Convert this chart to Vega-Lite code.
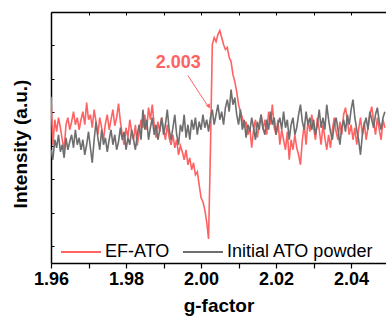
{
"$schema":"https://vega.github.io/schema/vega-lite/v6.json",
"width":335,"height":251,
"autosize":{"type":"none"},
"padding":{"left":51,"top":12,"right":0,"bottom":57},
"background":"white",
"config":{"view":{"stroke":null},"font":"Liberation Sans"},
"datasets":{
"spectra":[
{"g":1.96,"EF-ATO":166,"Initial ATO powder":113},
{"g":1.9605,"EF-ATO":118,"Initial ATO powder":103},
{"g":1.961,"EF-ATO":143,"Initial ATO powder":123},
{"g":1.9615,"EF-ATO":131,"Initial ATO powder":115},
{"g":1.962,"EF-ATO":145,"Initial ATO powder":128},
{"g":1.9625,"EF-ATO":135,"Initial ATO powder":111},
{"g":1.963,"EF-ATO":123,"Initial ATO powder":118},
{"g":1.9635,"EF-ATO":113,"Initial ATO powder":105},
{"g":1.964,"EF-ATO":138,"Initial ATO powder":125},
{"g":1.9645,"EF-ATO":145,"Initial ATO powder":113},
{"g":1.965,"EF-ATO":133,"Initial ATO powder":121},
{"g":1.9655,"EF-ATO":141,"Initial ATO powder":128},
{"g":1.966,"EF-ATO":151,"Initial ATO powder":115},
{"g":1.9665,"EF-ATO":138,"Initial ATO powder":133},
{"g":1.967,"EF-ATO":145,"Initial ATO powder":118},
{"g":1.9675,"EF-ATO":133,"Initial ATO powder":125},
{"g":1.968,"EF-ATO":143,"Initial ATO powder":113},
{"g":1.9685,"EF-ATO":151,"Initial ATO powder":123},
{"g":1.969,"EF-ATO":138,"Initial ATO powder":108},
{"g":1.9695,"EF-ATO":160,"Initial ATO powder":118},
{"g":1.97,"EF-ATO":143,"Initial ATO powder":131},
{"g":1.9705,"EF-ATO":148,"Initial ATO powder":115},
{"g":1.971,"EF-ATO":135,"Initial ATO powder":100},
{"g":1.9715,"EF-ATO":153,"Initial ATO powder":123},
{"g":1.972,"EF-ATO":141,"Initial ATO powder":141},
{"g":1.9725,"EF-ATO":128,"Initial ATO powder":125},
{"g":1.973,"EF-ATO":145,"Initial ATO powder":113},
{"g":1.9735,"EF-ATO":135,"Initial ATO powder":133},
{"g":1.974,"EF-ATO":123,"Initial ATO powder":118},
{"g":1.9745,"EF-ATO":139,"Initial ATO powder":125},
{"g":1.975,"EF-ATO":148,"Initial ATO powder":111},
{"g":1.9755,"EF-ATO":133,"Initial ATO powder":123},
{"g":1.976,"EF-ATO":143,"Initial ATO powder":133},
{"g":1.9765,"EF-ATO":153,"Initial ATO powder":118},
{"g":1.977,"EF-ATO":137,"Initial ATO powder":128},
{"g":1.9775,"EF-ATO":145,"Initial ATO powder":113},
{"g":1.978,"EF-ATO":159,"Initial ATO powder":121},
{"g":1.9785,"EF-ATO":141,"Initial ATO powder":135},
{"g":1.979,"EF-ATO":128,"Initial ATO powder":123},
{"g":1.9795,"EF-ATO":118,"Initial ATO powder":131},
{"g":1.98,"EF-ATO":135,"Initial ATO powder":113},
{"g":1.9805,"EF-ATO":125,"Initial ATO powder":125},
{"g":1.981,"EF-ATO":143,"Initial ATO powder":118},
{"g":1.9815,"EF-ATO":131,"Initial ATO powder":133},
{"g":1.982,"EF-ATO":123,"Initial ATO powder":123},
{"g":1.9825,"EF-ATO":138,"Initial ATO powder":113},
{"g":1.983,"EF-ATO":117,"Initial ATO powder":128},
{"g":1.9835,"EF-ATO":131,"Initial ATO powder":138},
{"g":1.984,"EF-ATO":143,"Initial ATO powder":123},
{"g":1.9845,"EF-ATO":135,"Initial ATO powder":153},
{"g":1.985,"EF-ATO":148,"Initial ATO powder":133},
{"g":1.9855,"EF-ATO":133,"Initial ATO powder":143},
{"g":1.986,"EF-ATO":155,"Initial ATO powder":123},
{"g":1.9865,"EF-ATO":143,"Initial ATO powder":135},
{"g":1.987,"EF-ATO":158,"Initial ATO powder":145},
{"g":1.9875,"EF-ATO":138,"Initial ATO powder":128},
{"g":1.988,"EF-ATO":125,"Initial ATO powder":138},
{"g":1.9885,"EF-ATO":141,"Initial ATO powder":123},
{"g":1.989,"EF-ATO":131,"Initial ATO powder":133},
{"g":1.9895,"EF-ATO":145,"Initial ATO powder":145},
{"g":1.99,"EF-ATO":135,"Initial ATO powder":128},
{"g":1.9905,"EF-ATO":123,"Initial ATO powder":138},
{"g":1.991,"EF-ATO":138,"Initial ATO powder":153},
{"g":1.9915,"EF-ATO":125,"Initial ATO powder":133},
{"g":1.992,"EF-ATO":118,"Initial ATO powder":123},
{"g":1.9925,"EF-ATO":128,"Initial ATO powder":135},
{"g":1.993,"EF-ATO":115,"Initial ATO powder":148},
{"g":1.9935,"EF-ATO":123,"Initial ATO powder":128},
{"g":1.994,"EF-ATO":108,"Initial ATO powder":118},
{"g":1.9945,"EF-ATO":117,"Initial ATO powder":138},
{"g":1.995,"EF-ATO":111,"Initial ATO powder":131},
{"g":1.9955,"EF-ATO":103,"Initial ATO powder":148},
{"g":1.996,"EF-ATO":113,"Initial ATO powder":125},
{"g":1.9965,"EF-ATO":98,"Initial ATO powder":138},
{"g":1.997,"EF-ATO":105,"Initial ATO powder":123},
{"g":1.9975,"EF-ATO":93,"Initial ATO powder":143},
{"g":1.998,"EF-ATO":100,"Initial ATO powder":133},
{"g":1.9985,"EF-ATO":88,"Initial ATO powder":145},
{"g":1.999,"EF-ATO":91,"Initial ATO powder":128},
{"g":1.9995,"EF-ATO":78,"Initial ATO powder":141},
{"g":2.0,"EF-ATO":65,"Initial ATO powder":133},
{"g":2.0005,"EF-ATO":61,"Initial ATO powder":148},
{"g":2.001,"EF-ATO":53,"Initial ATO powder":135},
{"g":2.0015,"EF-ATO":41,"Initial ATO powder":143},
{"g":2.002,"EF-ATO":24,"Initial ATO powder":131},
{"g":2.0025,"EF-ATO":113,"Initial ATO powder":145},
{"g":2.003,"EF-ATO":218,"Initial ATO powder":153},
{"g":2.0035,"EF-ATO":225,"Initial ATO powder":138},
{"g":2.004,"EF-ATO":221,"Initial ATO powder":148},
{"g":2.0045,"EF-ATO":228,"Initial ATO powder":158},
{"g":2.005,"EF-ATO":232,"Initial ATO powder":143},
{"g":2.0055,"EF-ATO":225,"Initial ATO powder":151},
{"g":2.006,"EF-ATO":218,"Initial ATO powder":138},
{"g":2.0065,"EF-ATO":213,"Initial ATO powder":155},
{"g":2.007,"EF-ATO":215,"Initial ATO powder":163},
{"g":2.0075,"EF-ATO":205,"Initial ATO powder":151},
{"g":2.008,"EF-ATO":201,"Initial ATO powder":173},
{"g":2.0085,"EF-ATO":188,"Initial ATO powder":158},
{"g":2.009,"EF-ATO":181,"Initial ATO powder":165},
{"g":2.0095,"EF-ATO":171,"Initial ATO powder":148},
{"g":2.01,"EF-ATO":158,"Initial ATO powder":138},
{"g":2.0105,"EF-ATO":151,"Initial ATO powder":153},
{"g":2.011,"EF-ATO":145,"Initial ATO powder":133},
{"g":2.0115,"EF-ATO":135,"Initial ATO powder":143},
{"g":2.012,"EF-ATO":141,"Initial ATO powder":125},
{"g":2.0125,"EF-ATO":128,"Initial ATO powder":138},
{"g":2.013,"EF-ATO":135,"Initial ATO powder":131},
{"g":2.0135,"EF-ATO":115,"Initial ATO powder":145},
{"g":2.014,"EF-ATO":133,"Initial ATO powder":135},
{"g":2.0145,"EF-ATO":143,"Initial ATO powder":123},
{"g":2.015,"EF-ATO":125,"Initial ATO powder":141},
{"g":2.0155,"EF-ATO":138,"Initial ATO powder":133},
{"g":2.016,"EF-ATO":148,"Initial ATO powder":148},
{"g":2.0165,"EF-ATO":133,"Initial ATO powder":135},
{"g":2.017,"EF-ATO":143,"Initial ATO powder":128},
{"g":2.0175,"EF-ATO":128,"Initial ATO powder":143},
{"g":2.018,"EF-ATO":151,"Initial ATO powder":133},
{"g":2.0185,"EF-ATO":138,"Initial ATO powder":151},
{"g":2.019,"EF-ATO":158,"Initial ATO powder":138},
{"g":2.0195,"EF-ATO":135,"Initial ATO powder":145},
{"g":2.02,"EF-ATO":128,"Initial ATO powder":128},
{"g":2.0205,"EF-ATO":143,"Initial ATO powder":138},
{"g":2.021,"EF-ATO":118,"Initial ATO powder":145},
{"g":2.0215,"EF-ATO":133,"Initial ATO powder":133},
{"g":2.022,"EF-ATO":123,"Initial ATO powder":151},
{"g":2.0225,"EF-ATO":113,"Initial ATO powder":135},
{"g":2.023,"EF-ATO":131,"Initial ATO powder":143},
{"g":2.0235,"EF-ATO":103,"Initial ATO powder":123},
{"g":2.024,"EF-ATO":123,"Initial ATO powder":138},
{"g":2.0245,"EF-ATO":113,"Initial ATO powder":145},
{"g":2.025,"EF-ATO":128,"Initial ATO powder":128},
{"g":2.0255,"EF-ATO":115,"Initial ATO powder":135},
{"g":2.026,"EF-ATO":108,"Initial ATO powder":148},
{"g":2.0265,"EF-ATO":98,"Initial ATO powder":158},
{"g":2.027,"EF-ATO":123,"Initial ATO powder":141},
{"g":2.0275,"EF-ATO":138,"Initial ATO powder":133},
{"g":2.028,"EF-ATO":118,"Initial ATO powder":151},
{"g":2.0285,"EF-ATO":143,"Initial ATO powder":138},
{"g":2.029,"EF-ATO":131,"Initial ATO powder":145},
{"g":2.0295,"EF-ATO":148,"Initial ATO powder":133},
{"g":2.03,"EF-ATO":135,"Initial ATO powder":143},
{"g":2.0305,"EF-ATO":123,"Initial ATO powder":128},
{"g":2.031,"EF-ATO":145,"Initial ATO powder":138},
{"g":2.0315,"EF-ATO":133,"Initial ATO powder":153},
{"g":2.032,"EF-ATO":118,"Initial ATO powder":135},
{"g":2.0325,"EF-ATO":138,"Initial ATO powder":145},
{"g":2.033,"EF-ATO":125,"Initial ATO powder":133},
{"g":2.0335,"EF-ATO":113,"Initial ATO powder":158},
{"g":2.034,"EF-ATO":128,"Initial ATO powder":143},
{"g":2.0345,"EF-ATO":115,"Initial ATO powder":131},
{"g":2.035,"EF-ATO":133,"Initial ATO powder":123},
{"g":2.0355,"EF-ATO":145,"Initial ATO powder":138},
{"g":2.036,"EF-ATO":131,"Initial ATO powder":145},
{"g":2.0365,"EF-ATO":123,"Initial ATO powder":133},
{"g":2.037,"EF-ATO":141,"Initial ATO powder":118},
{"g":2.0375,"EF-ATO":128,"Initial ATO powder":135},
{"g":2.038,"EF-ATO":148,"Initial ATO powder":143},
{"g":2.0385,"EF-ATO":155,"Initial ATO powder":131},
{"g":2.039,"EF-ATO":143,"Initial ATO powder":148},
{"g":2.0395,"EF-ATO":128,"Initial ATO powder":138},
{"g":2.04,"EF-ATO":138,"Initial ATO powder":153},
{"g":2.0405,"EF-ATO":123,"Initial ATO powder":163},
{"g":2.041,"EF-ATO":135,"Initial ATO powder":145},
{"g":2.0415,"EF-ATO":118,"Initial ATO powder":133},
{"g":2.042,"EF-ATO":133,"Initial ATO powder":123},
{"g":2.0425,"EF-ATO":145,"Initial ATO powder":108},
{"g":2.043,"EF-ATO":128,"Initial ATO powder":128},
{"g":2.0435,"EF-ATO":141,"Initial ATO powder":138},
{"g":2.044,"EF-ATO":123,"Initial ATO powder":145},
{"g":2.0445,"EF-ATO":135,"Initial ATO powder":133},
{"g":2.045,"EF-ATO":148,"Initial ATO powder":151},
{"g":2.0455,"EF-ATO":156,"Initial ATO powder":143},
{"g":2.046,"EF-ATO":141,"Initial ATO powder":135},
{"g":2.0465,"EF-ATO":128,"Initial ATO powder":148},
{"g":2.047,"EF-ATO":145,"Initial ATO powder":155},
{"g":2.0475,"EF-ATO":133,"Initial ATO powder":141},
{"g":2.048,"EF-ATO":123,"Initial ATO powder":133},
{"g":2.0485,"EF-ATO":143,"Initial ATO powder":145},
{"g":2.049,"EF-ATO":135,"Initial ATO powder":151}
],
"label":[{"g":1.9939,"intensity":200,"text":"2.003"}],
"arrow":[{"g":1.9965,"intensity":187,"g2":2.0021,"intensity2":155}],
"head":[{"g":2.0020,"intensity":157}]
},
"layer":[
{
"data":{"name":"spectra"},
"transform":[{"fold":["EF-ATO","Initial ATO powder"],"as":["sample","intensity"]}],
"mark":{"type":"line","strokeWidth":1.6,"clip":true},
"encoding":{
"x":{"field":"g","type":"quantitative","scale":{"domain":[1.96,2.0493],"nice":false,"zero":false},
"axis":{"orient":"bottom","values":[1.96,1.97,1.98,1.99,2.0,2.01,2.02,2.03,2.04],
"labelExpr":"round(datum.value*100) % 2 == 0 ? format(datum.value,'.2f') : ''",
"labelOverlap":false,"labelFlush":false,"labelFontSize":18,"labelFontWeight":"bold","labelColor":"black","labelPadding":2,
"tickSize":5,"tickColor":"black","tickWidth":1.2,"domainColor":"black","domainWidth":1.5,"grid":false,
"title":"g-factor","titleFontSize":19,"titleFontWeight":"bold","titleColor":"black","titlePadding":8}},
"y":{"field":"intensity","type":"quantitative","scale":{"domain":[0,250.5],"nice":false,"zero":false},
"axis":{"orient":"left","values":[16.7,33.4,50.1,66.8,83.5,100.2,116.9,133.6,150.3,167,183.7,200.4,217.1,233.8],
"labels":false,"tickSize":-3,"tickColor":"black","tickWidth":1,"domainColor":"black","domainWidth":1.5,"grid":false,
"title":"Intensity (a.u.)","titleFontSize":19,"titleFontWeight":"bold","titleColor":"black","titlePadding":20,"titleY":131.5}},
"color":{"field":"sample","type":"nominal","scale":{"domain":["EF-ATO","Initial ATO powder"],"range":["#ff6262","#6e6e6e"]},
"legend":{"orient":"none","legendX":9,"legendY":219,"direction":"horizontal","columns":2,"title":null,
"symbolType":"stroke","symbolSize":1600,"symbolStrokeWidth":2,"labelFontSize":18,"labelColor":"black","labelOffset":3,"columnPadding":9,"labelLimit":300}}
}
},
{
"data":{"name":"label"},
"mark":{"type":"text","color":"#ff6262","fontSize":18,"fontWeight":"bold","align":"center","baseline":"middle"},
"encoding":{
"x":{"field":"g","type":"quantitative","axis":{"orient":"top","values":[1.96,1.97,1.98,1.99,2.0,2.01,2.02,2.03,2.04],"labels":false,"tickSize":-3,"tickColor":"black","tickWidth":1,"domainColor":"black","domainWidth":1.5,"grid":false,"title":null}},
"y":{"field":"intensity","type":"quantitative"},
"text":{"field":"text"}
}
},
{
"data":{"name":"arrow"},
"mark":{"type":"rule","color":"#ff6262","strokeWidth":1},
"encoding":{
"x":{"field":"g","type":"quantitative","axis":null},
"y":{"field":"intensity","type":"quantitative"},
"x2":{"field":"g2"},
"y2":{"field":"intensity2"}
}
},
{
"data":{"name":"head"},
"mark":{"type":"point","shape":"triangle","filled":true,"color":"#ff6262","size":22,"angle":147,"opacity":1},
"encoding":{
"x":{"field":"g","type":"quantitative","axis":null},
"y":{"field":"intensity","type":"quantitative"}
}
}
]
}
